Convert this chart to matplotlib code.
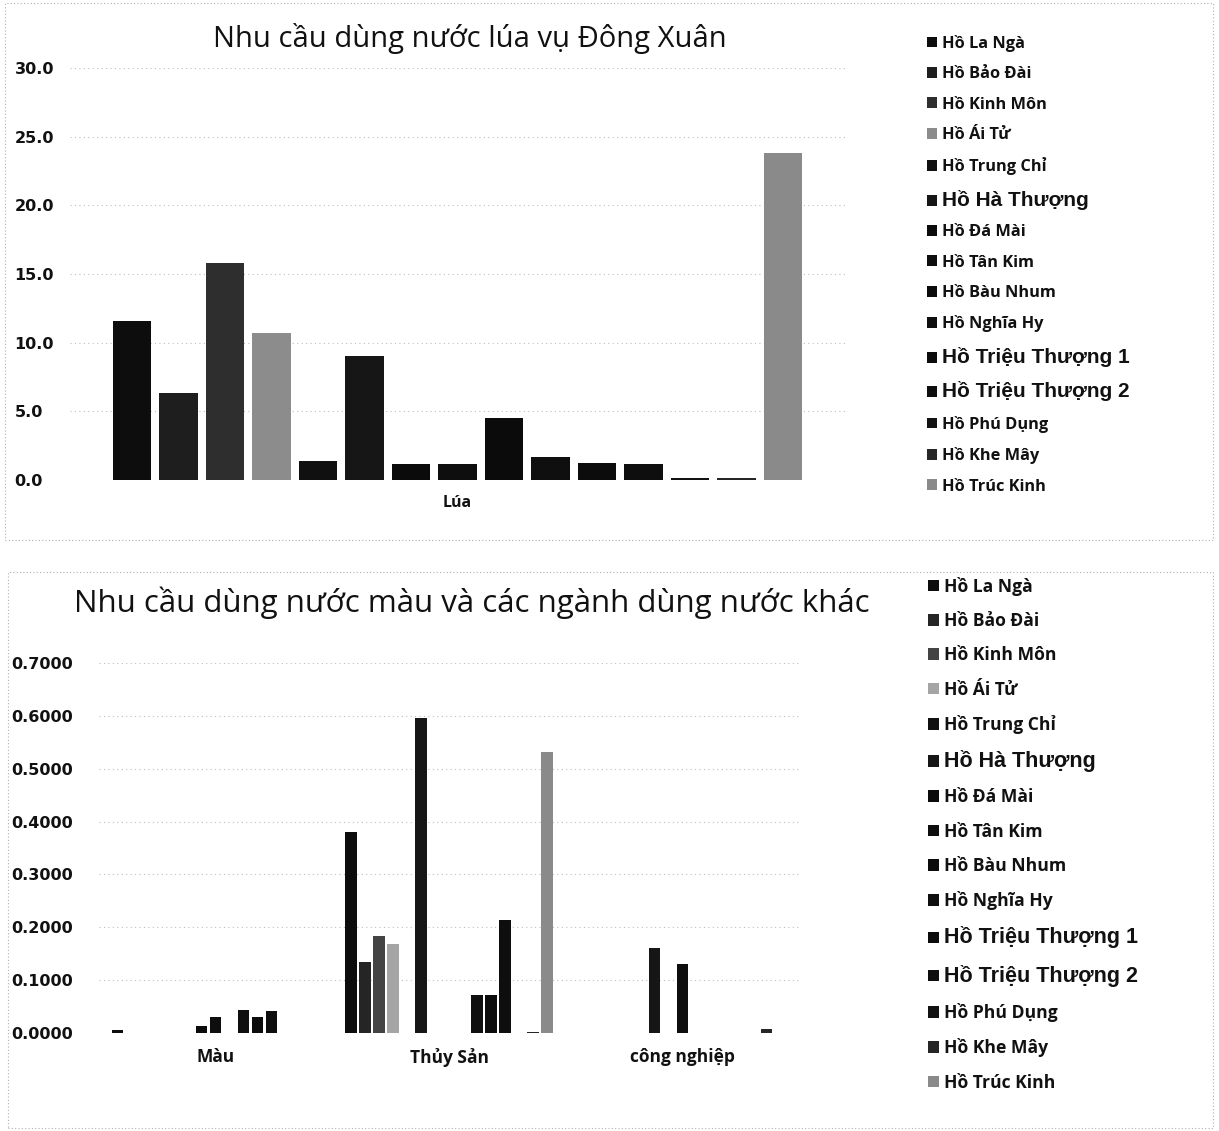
import numpy as np
import matplotlib
matplotlib.use("Agg")
import matplotlib.pyplot as plt
from matplotlib.patches import Rectangle

# ---- data ----
reservoirs = ["Hồ La Ngà", "Hồ Bảo Đài", "Hồ Kinh Môn", "Hồ Ái Tử", "Hồ Trung Chỉ",
              "Hồ Hà Thượng", "Hồ Đá Mài", "Hồ Tân Kim", "Hồ Bàu Nhum", "Hồ Nghĩa Hy",
              "Hồ Triệu Thượng 1", "Hồ Triệu Thượng 2", "Hồ Phú Dụng", "Hồ Khe Mây",
              "Hồ Trúc Kinh"]

rice_categories = ["Lúa"]
rice_demand = [11.6, 6.3, 15.8, 10.7, 1.4, 9.0, 1.15, 1.15, 4.5, 1.65, 1.25, 1.2, 0.15, 0.15, 23.8]

other_categories = ["Màu", "Thủy Sản", "công nghiệp"]
# one row per reservoir: [Màu, Thủy Sản, công nghiệp]
other_demand = [
    [0.006, 0.380, 0.0],
    [0.0, 0.135, 0.0],
    [0.0, 0.183, 0.0],
    [0.0, 0.169, 0.0],
    [0.0, 0.0, 0.0],
    [0.0, 0.596, 0.161],
    [0.013, 0.0, 0.0],
    [0.030, 0.0, 0.131],
    [0.0, 0.0, 0.0],
    [0.044, 0.0725, 0.0],
    [0.030, 0.0725, 0.0],
    [0.042, 0.213, 0.0],
    [0.0, 0.0, 0.0],
    [0.0, 0.002, 0.007],
    [0.0, 0.531, 0.0],
]

rice_ticks = [0, 5, 10, 15, 20, 25, 30]
other_ticks = [0.0, 0.1, 0.2, 0.3, 0.4, 0.5, 0.6, 0.7]

# ---- styling ----
bar_colors = ["#0d0d0d", "#1e1e1e", "#2e2e2e", "#8c8c8c", "#101010",
              "#161616", "#0b0b0b", "#0e0e0e", "#0b0b0b", "#0f0f0f",
              "#0c0c0c", "#0e0e0e", "#121212", "#262626", "#8a8a8a"]
other_colors = list(bar_colors)
other_colors[1] = "#252525"
other_colors[2] = "#444444"
other_colors[3] = "#a5a5a5"

title_font = ["Open Sans", "DejaVu Sans"]
label_font = ["Open Sans", "DejaVu Sans"]
arial_like = ["Liberation Sans", "DejaVu Sans"]
large_entries = {5, 10, 11}

W, H = 1219, 1131
fig = plt.figure(figsize=(W / 100, H / 100), dpi=100)
fig.patch.set_facecolor("white")


def px_axes(left, right, top, bottom):
    return fig.add_axes([left / W, 1 - bottom / H, (right - left) / W, (bottom - top) / H])


def style_axes(ax, ticks, fmt, pad, tick_size):
    for s in ax.spines.values():
        s.set_visible(False)
    ax.set_yticks(ticks)
    ax.set_yticklabels([fmt.format(t) for t in ticks], fontsize=tick_size,
                       fontweight="bold", family=["DejaVu Sans"], color="#111111")
    for lab in ax.get_yticklabels():
        lab.set_horizontalalignment("left")
    ax.tick_params(axis="y", length=0, pad=pad)
    ax.tick_params(axis="x", length=0, pad=11)
    ax.grid(axis="y", color="#bdbdbd", linestyle=(0, (1, 3)), linewidth=0.8)
    ax.set_axisbelow(True)


def grouped_bars(ax, categories, values, colors, group_width=0.9, fill=0.82):
    n = len(values)
    slot = group_width / n
    x = np.arange(len(categories))
    handles = []
    for i, vals in enumerate(values):
        offs = x - group_width / 2 + slot * (i + 0.5)
        h = ax.bar(offs, vals, width=slot * fill, color=colors[i], label=reservoirs[i])
        handles.append(h)
    ax.set_xticks(x)
    ax.set_xlim(-0.5, len(categories) - 0.5)
    return handles


def add_legend(handles, anchor_y, fontsize, spacing, large_size):
    leg = fig.legend(handles=handles, loc="upper left",
                     bbox_to_anchor=(912 / W, 1 - anchor_y / H),
                     frameon=False, handlelength=0.65, handleheight=0.65,
                     handletextpad=0.3, labelspacing=spacing,
                     prop={"family": label_font, "size": fontsize, "weight": "bold"})
    for i, t in enumerate(leg.get_texts()):
        t.set_color("#111111")
        if i in large_entries:
            t.set_family(arial_like)
            t.set_fontsize(large_size)
    return leg


# ---- top chart: rice ----
ax1 = px_axes(70, 845, 68, 480)
h1 = grouped_bars(ax1, rice_categories, [[v] for v in rice_demand], bar_colors)
ax1.set_ylim(0, 30)
style_axes(ax1, rice_ticks, "{:.1f}", 40, 11.5)
ax1.set_xticklabels(rice_categories, fontsize=11.5, fontweight="bold",
                    family=label_font, color="#111111")
fig.text(470 / W, 1 - 38 / H, "Nhu cầu dùng nước lúa vụ Đông Xuân", ha="center",
         va="center", fontsize=21, family=title_font, color="#111111")
add_legend(h1, 20, 11.8, 0.88, 15)

# ---- bottom chart: other uses ----
ax2 = px_axes(99, 799, 663, 1033)
h2 = grouped_bars(ax2, other_categories, other_demand, other_colors)
ax2.set_ylim(0, 0.7)
style_axes(ax2, other_ticks, "{:.4f}", 63, 11.5)
ax2.set_xticklabels(other_categories, fontsize=12.5, fontweight="bold",
                    family=label_font, color="#111111")
fig.text(472 / W, 1 - 603 / H, "Nhu cầu dùng nước màu và các ngành dùng nước khác",
         ha="center", va="center", fontsize=22.5, family=title_font, color="#111111")
add_legend(h2, 561, 12.6, 0.93, 15.5)

# ---- panel frames ----
for (l, t, r, b) in [(5, 3, 1213, 540), (8, 572, 1213, 1128)]:
    fig.add_artist(Rectangle((l / W, 1 - b / H), (r - l) / W, (b - t) / H,
                             transform=fig.transFigure, fill=False,
                             edgecolor="#b0b0b0", linestyle=(0, (1, 2)), linewidth=0.8))

fig.savefig("out.png", dpi=100, facecolor="white")
